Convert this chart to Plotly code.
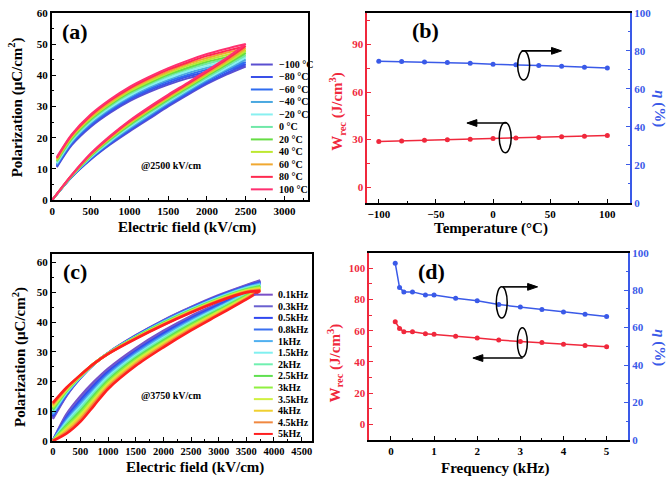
import plotly.graph_objects as go

# ---------------- data ----------------
# (a) P-E loops at different temperatures
temps_a = ["−100 °C", "−80 °C", "−60 °C", "−40 °C", "−20 °C", "0 °C", "20 °C", "40 °C", "60 °C", "80 °C", "100 °C"]
colors_a = ["#5a4fd0", "#3a50e8", "#2f6cf0", "#4aa8e0", "#88f0f0", "#70e8a8", "#66dd44", "#bde830", "#f0a830", "#ff2a50", "#ff3070"]
E_low_a = [0, 250, 500, 750, 1000, 1250, 1500, 1750, 2000, 2250, 2500]
E_up_a = [2500, 2250, 2000, 1750, 1500, 1250, 1000, 750, 500, 250, 60]
P_low_a = [
    [0, 7.3, 13.0, 17.8, 22.0, 26.0, 30.0, 33.7, 37.2, 40.2, 42.8],
    [0, 7.4, 13.2, 18.1, 22.4, 26.4, 30.4, 34.1, 37.6, 40.7, 43.5],
    [0, 7.4, 13.4, 18.4, 22.7, 26.8, 30.8, 34.5, 38.1, 41.3, 44.2],
    [0, 7.5, 13.6, 18.6, 23.0, 27.1, 31.1, 34.9, 38.5, 41.8, 45.0],
    [0, 7.6, 13.8, 18.9, 23.4, 27.5, 31.5, 35.3, 38.9, 42.3, 45.7],
    [0, 7.6, 14.0, 19.2, 23.8, 27.9, 31.9, 35.6, 39.3, 42.9, 46.4],
    [0, 7.7, 14.2, 19.5, 24.1, 28.3, 32.3, 36.0, 39.8, 43.4, 47.1],
    [0, 7.8, 14.4, 19.8, 24.5, 28.7, 32.7, 36.4, 40.2, 43.9, 47.8],
    [0, 7.9, 14.6, 20.0, 24.8, 29.0, 33.0, 36.8, 40.6, 44.4, 48.6],
    [0, 7.9, 14.8, 20.3, 25.2, 29.4, 33.4, 37.2, 41.1, 45.0, 49.3],
    [0, 8.0, 15.0, 20.6, 25.5, 29.8, 33.8, 37.6, 41.5, 45.5, 50.0],
]
P_up_a = [
    [42.8, 41.8, 40.5, 39.0, 37.0, 34.6, 31.7, 28.0, 23.5, 17.5, 10.5],
    [43.5, 42.5, 41.1, 39.6, 37.5, 35.1, 32.2, 28.4, 23.9, 17.9, 10.8],
    [44.2, 43.1, 41.8, 40.1, 38.1, 35.6, 32.6, 28.9, 24.3, 18.2, 11.2],
    [45.0, 43.8, 42.4, 40.7, 38.6, 36.1, 33.1, 29.3, 24.7, 18.6, 11.5],
    [45.7, 44.5, 43.0, 41.3, 39.1, 36.6, 33.5, 29.7, 25.1, 18.9, 11.8],
    [46.4, 45.2, 43.7, 41.9, 39.7, 37.1, 34.0, 30.2, 25.5, 19.3, 12.2],
    [47.1, 45.8, 44.3, 42.4, 40.2, 37.5, 34.5, 30.6, 25.9, 19.6, 12.5],
    [47.8, 46.5, 44.9, 43.0, 40.7, 38.0, 34.9, 31.0, 26.3, 20.0, 12.8],
    [48.6, 47.2, 45.5, 43.6, 41.2, 38.5, 35.4, 31.4, 26.7, 20.3, 13.1],
    [49.3, 47.8, 46.2, 44.1, 41.8, 39.0, 35.8, 31.9, 27.1, 20.7, 13.5],
    [50.0, 48.5, 46.8, 44.7, 42.3, 39.5, 36.3, 32.3, 27.5, 21.0, 13.8],
]

# (b) energy storage vs temperature
T_b = [-100, -80, -60, -40, -20, 0, 20, 40, 60, 80, 100]
Wrec_b = [28.8, 29.2, 29.6, 29.9, 30.3, 30.7, 31.0, 31.4, 31.8, 32.2, 32.6]
eta_b = [74.6, 74.4, 74.2, 73.9, 73.5, 72.9, 72.7, 72.3, 71.9, 71.4, 71.0]

# (c) P-E loops at different frequencies
freqs_c = ["0.1kHz", "0.3kHz", "0.5kHz", "0.8kHz", "1kHz", "1.5kHz", "2kHz", "2.5kHz", "3kHz", "3.5kHz", "4kHz", "4.5kHz", "5kHz"]
colors_c = ["#7a50c8", "#6a60d0", "#3048f0", "#3a70f0", "#50b0f0", "#80f0f0", "#70f0b0", "#60e050", "#90f040", "#d0f040", "#f0d030", "#f08840", "#ff2020"]
E_low_c = [0, 250, 500, 750, 1000, 1500, 2000, 2500, 3000, 3500, 3750]
E_up_c = [3750, 3500, 3000, 2500, 2000, 1500, 1000, 750, 500, 250, 0]
P_low_c = [
    [0, 9.0, 15.0, 20.0, 24.3, 31.2, 37.0, 42.0, 46.3, 50.8, 54.0],
    [0, 8.5, 14.3, 19.3, 23.7, 30.7, 36.5, 41.6, 46.0, 50.5, 53.7],
    [0, 7.9, 13.6, 18.7, 23.2, 30.2, 36.1, 41.2, 45.7, 50.3, 53.4],
    [0, 7.4, 12.9, 18.0, 22.6, 29.7, 35.6, 40.8, 45.3, 50.0, 53.1],
    [0, 6.8, 12.2, 17.3, 22.0, 29.2, 35.2, 40.4, 45.0, 49.7, 52.8],
    [0, 6.3, 11.5, 16.7, 21.5, 28.7, 34.7, 40.0, 44.7, 49.5, 52.5],
    [0, 5.8, 10.8, 16.0, 20.9, 28.3, 34.3, 39.6, 44.4, 49.2, 52.3],
    [0, 5.2, 10.0, 15.3, 20.3, 27.8, 33.8, 39.2, 44.0, 48.9, 52.0],
    [0, 4.7, 9.3, 14.7, 19.8, 27.3, 33.3, 38.8, 43.7, 48.7, 51.7],
    [0, 4.1, 8.6, 14.0, 19.2, 26.8, 32.9, 38.4, 43.4, 48.4, 51.4],
    [0, 3.6, 7.9, 13.3, 18.6, 26.3, 32.4, 38.0, 43.1, 48.1, 51.1],
    [0, 3.0, 7.2, 12.7, 18.1, 25.8, 32.0, 37.6, 42.7, 47.9, 50.8],
    [0, 2.5, 6.5, 12.0, 17.5, 25.3, 31.5, 37.2, 42.4, 47.6, 50.5],
]
P_up_c = [
    [54.0, 52.4, 49.0, 45.0, 40.6, 35.5, 29.6, 26.0, 21.2, 15.3, 7.4],
    [53.7, 52.2, 48.8, 44.9, 40.5, 35.4, 29.6, 26.0, 21.3, 15.5, 7.9],
    [53.4, 52.0, 48.7, 44.7, 40.3, 35.3, 29.5, 26.0, 21.4, 15.8, 8.3],
    [53.1, 51.8, 48.5, 44.6, 40.2, 35.2, 29.5, 26.0, 21.5, 16.0, 8.8],
    [52.8, 51.6, 48.3, 44.4, 40.1, 35.1, 29.5, 26.0, 21.5, 16.2, 9.2],
    [52.5, 51.4, 48.2, 44.3, 39.9, 35.0, 29.5, 26.0, 21.6, 16.4, 9.7],
    [52.3, 51.2, 48.0, 44.1, 39.8, 35.0, 29.5, 26.1, 21.7, 16.7, 10.1],
    [52.0, 51.0, 47.8, 44.0, 39.7, 34.9, 29.4, 26.1, 21.8, 16.9, 10.6],
    [51.7, 50.8, 47.7, 43.8, 39.5, 34.8, 29.4, 26.1, 21.9, 17.1, 11.0],
    [51.4, 50.6, 47.5, 43.7, 39.4, 34.7, 29.4, 26.1, 22.0, 17.3, 11.5],
    [51.1, 50.4, 47.3, 43.5, 39.3, 34.6, 29.4, 26.1, 22.0, 17.6, 11.9],
    [50.8, 50.2, 47.2, 43.4, 39.1, 34.5, 29.3, 26.1, 22.1, 17.8, 12.4],
    [50.5, 50.0, 47.0, 43.2, 39.0, 34.4, 29.3, 26.1, 22.2, 18.0, 12.8],
]

# (d) energy storage vs frequency
f_d = [0.1, 0.2, 0.3, 0.5, 0.8, 1, 1.5, 2, 2.5, 3, 3.5, 4, 4.5, 5]
Wrec_d = [65.8, 61.5, 59.4, 59.4, 58.1, 57.7, 56.5, 55.4, 54.0, 53.1, 52.5, 51.3, 50.6, 49.8]
eta_d = [94.4, 81.4, 79.1, 79.1, 77.4, 77.4, 75.7, 74.3, 72.3, 71.0, 69.7, 68.3, 67.1, 65.9]

# ---------------- layout helpers ----------------
W, H = 670, 485
FONT = "Liberation Serif"
RED = "#f0283c"
BLUE = "#3a5ae8"


def fx(px):
    return px / W


def fy(py):
    return 1 - py / H


fig = go.Figure()

# (a) loops
for name, col, pl, pu in zip(temps_a, colors_a, P_low_a, P_up_a):
    fig.add_trace(go.Scatter(x=E_low_a + E_up_a, y=pl + pu, mode="lines", name=name,
                             line=dict(color=col, width=2, shape="spline", smoothing=0.8),
                             xaxis="x", yaxis="y", showlegend=False, hoverinfo="skip"))

# (b)
fig.add_trace(go.Scatter(x=T_b, y=Wrec_b, mode="lines+markers", line=dict(color=RED, width=1.5),
                         marker=dict(size=5, color=RED), xaxis="x2", yaxis="y2", showlegend=False))
fig.add_trace(go.Scatter(x=T_b, y=eta_b, mode="lines+markers", line=dict(color=BLUE, width=1.5),
                         marker=dict(size=5, color=BLUE), xaxis="x2", yaxis="y3", showlegend=False))

# (c) loops
for name, col, pl, pu in zip(freqs_c, colors_c, P_low_c, P_up_c):
    fig.add_trace(go.Scatter(x=E_low_c + E_up_c, y=pl + pu, mode="lines", name=name,
                             line=dict(color=col, width=2.6, shape="spline", smoothing=0.8),
                             xaxis="x3", yaxis="y4", showlegend=False, hoverinfo="skip"))

# (d)
fig.add_trace(go.Scatter(x=f_d, y=Wrec_d, mode="lines+markers", line=dict(color=RED, width=1.5),
                         marker=dict(size=5, color=RED), xaxis="x4", yaxis="y5", showlegend=False))
fig.add_trace(go.Scatter(x=f_d, y=eta_d, mode="lines+markers", line=dict(color=BLUE, width=1.5),
                         marker=dict(size=5, color=BLUE), xaxis="x4", yaxis="y6", showlegend=False))

tickfont = dict(family=FONT, size=11, color="black", weight="bold")


def ax(domain, rng, dtick, minor, anchor, color="black", side=None, overlaying=None, mirror=True, tick0=None, tfont=None):
    d = dict(domain=domain, range=rng, dtick=dtick, anchor=anchor, showgrid=False, zeroline=False,
             showline=True, linecolor=color, linewidth=1.8, mirror=mirror, ticks="inside", ticklen=4,
             tickwidth=1.2, tickcolor=color, tickfont=tfont or dict(tickfont, color=color),
             minor=dict(ticks="inside", ticklen=2.5, dtick=minor, tickcolor=color, tickwidth=1))
    if tick0 is not None:
        d["tick0"] = tick0
    if side:
        d["side"] = side
    if overlaying:
        d["overlaying"] = overlaying
    return d


fig.update_layout(
    width=W, height=H, margin=dict(l=0, r=0, t=0, b=0),
    paper_bgcolor="white", plot_bgcolor="white",
    xaxis=ax([fx(50), fx(307)], [-5, 3300], 500, 250, "y"),
    yaxis=ax([fy(199), fy(7)], [0, 60], 10, 5, "x"),
    xaxis2=ax([fx(367), fx(631)], [-110, 120], 50, 25, "y2"),
    yaxis2=ax([fy(202), fy(7)], [-10, 110], 30, 15, "x2", color=RED, mirror=False, tick0=0),
    yaxis3=ax([fy(202), fy(7)], [0, 100], 20, 10, "x2", color=BLUE, side="right", overlaying="y2", mirror=False),
    xaxis3=ax([fx(50), fx(311)], [-18, 4680], 500, 250, "y4", tfont=dict(tickfont, size=10.5)),
    yaxis4=ax([fy(446), fy(254)], [0, 63], 10, 5, "x3"),
    xaxis4=ax([fx(369), fx(629)], [-0.5, 5.5], 1, 0.5, "y5"),
    yaxis5=ax([fy(445), fy(253)], [-10, 110], 20, 10, "x4", color=RED, mirror=False, tick0=0),
    yaxis6=ax([fy(445), fy(253)], [0, 100], 20, 10, "x4", color=BLUE, side="right", overlaying="y5", mirror=False),
)

annotations = []
shapes = []


def text(px, py, s, size, color="black", angle=0, xanchor="center"):
    annotations.append(dict(x=fx(px), y=fy(py), xref="paper", yref="paper", text=s, showarrow=False,
                            textangle=angle, xanchor=xanchor, yanchor="middle",
                            font=dict(family=FONT, size=size, color=color, weight="bold")))


# panel labels
text(73, 26, "(a)", 22)
text(425, 25, "(b)", 22)
text(73, 272, "(c)", 22)
text(431, 272, "(d)", 22)

# axis titles
text(186, 227, "Electric field (kV/cm)", 15)
text(14, 104, "Polarization (μC/cm<sup>2</sup>)", 15, angle=-90)
text(491, 228, "Temperature (°C)", 15)
text(337, 108, "W<sub>rec</sub> (J/cm<sup>3</sup>)", 15, color=RED, angle=-90)
text(661, 105, "<i>η</i> (%)", 15, color=BLUE, angle=90)
text(194, 473, "Electric field (kV/cm)", 15)
text(17, 360, "Polarization (μC/cm<sup>2</sup>)", 15, angle=-90)
text(495, 474, "Frequency (kHz)", 15)
text(334, 366, "W<sub>rec</sub> (J/cm<sup>3</sup>)", 15, color=RED, angle=-90)
text(661, 350, "<i>η</i> (%)", 15, color=BLUE, angle=90)

# condition labels
text(170, 164, "@2500 kV/cm", 10)
text(170, 399, "@3750 kV/cm", 10)

# manual legends
for i, (name, col) in enumerate(zip(temps_a, colors_a)):
    y = 60 + i * 12.8
    shapes.append(dict(type="line", xref="paper", yref="paper", x0=fx(250), x1=fx(272), y0=fy(y), y1=fy(y),
                       line=dict(color=col, width=2)))
    text(276, y, name, 10, xanchor="left")
for i, (name, col) in enumerate(zip(freqs_c, colors_c)):
    y = 296 + i * 11.9
    shapes.append(dict(type="line", xref="paper", yref="paper", x0=fx(253), x1=fx(272), y0=fy(y), y1=fy(y),
                       line=dict(color=col, width=2)))
    text(275, y, name, 10, xanchor="left")

# ellipses and arrows
for cx, cy, w, h in [(524, 61, 12, 30), (505.5, 135, 12, 31), (502, 304, 11, 32), (522.7, 345, 10, 30)]:
    shapes.append(dict(type="circle", xref="paper", yref="paper", x0=fx(cx - w / 2), x1=fx(cx + w / 2),
                       y0=fy(cy + h / 2), y1=fy(cy - h / 2), line=dict(color="black", width=1.5)))


def arrow(x0, x1, y):
    d = 1 if x1 > x0 else -1
    shapes.append(dict(type="line", xref="paper", yref="paper", x0=fx(x0), x1=fx(x1 - d * 6), y0=fy(y), y1=fy(y),
                       line=dict(color="black", width=1.6)))
    path = "M {:.5f},{:.5f} L {:.5f},{:.5f} L {:.5f},{:.5f} Z".format(
        fx(x1), fy(y), fx(x1 - d * 10), fy(y - 3.5), fx(x1 - d * 10), fy(y + 3.5))
    shapes.append(dict(type="path", xref="paper", yref="paper", path=path, fillcolor="black",
                       line=dict(color="black", width=1)))


arrow(522, 562, 46)
arrow(507, 467, 120)
arrow(503, 538, 288)
arrow(523, 473, 361)

fig.update_layout(annotations=annotations, shapes=shapes)
fig.write_html("out.html")
